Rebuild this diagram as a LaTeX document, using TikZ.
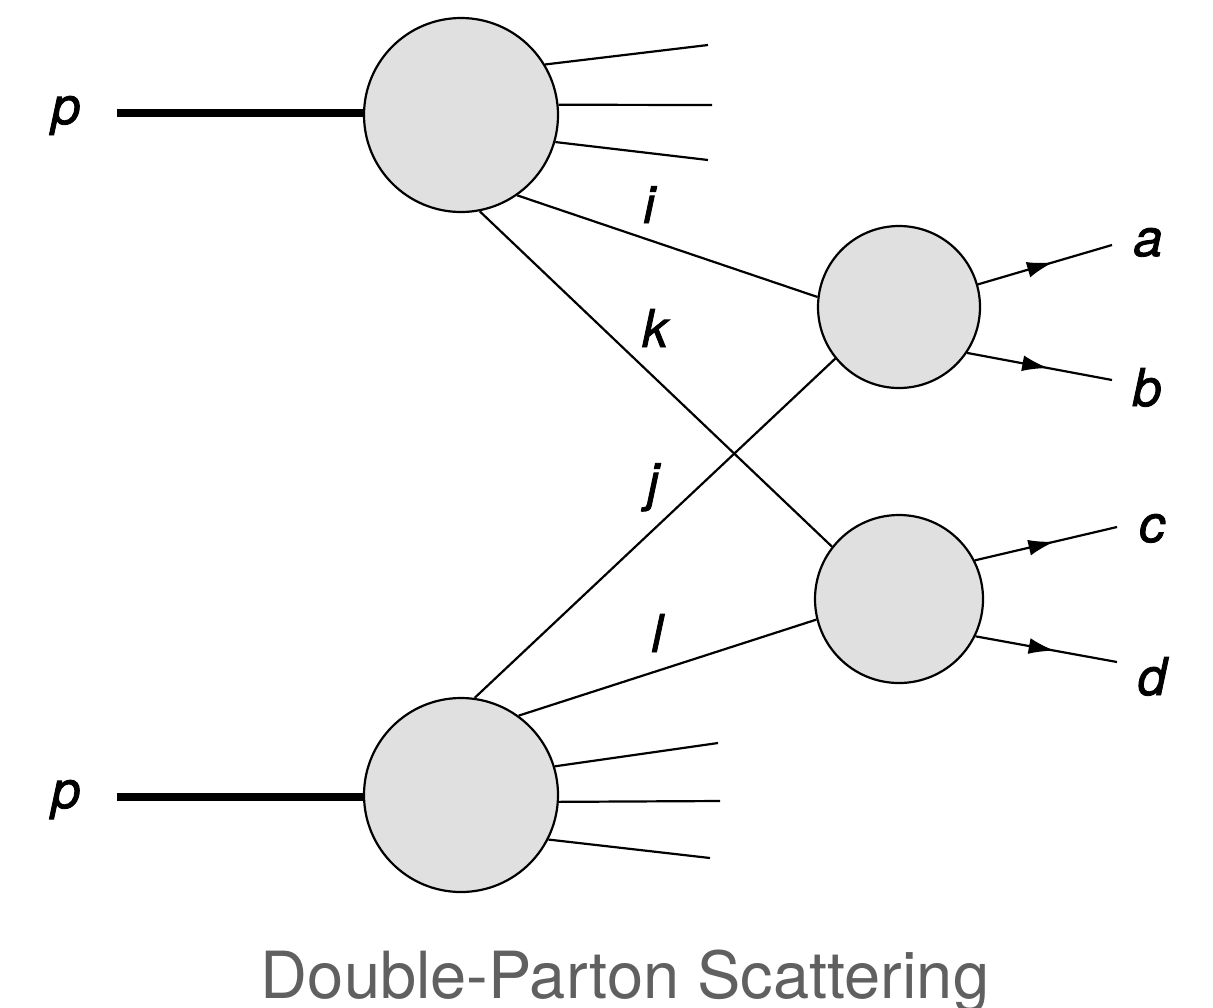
\documentclass[tikz,border=0pt]{standalone}
\usepackage{fontspec}
\setmainfont{TeX Gyre Heros}
\newfontfamily\lblfont[ItalicFeatures={FakeBold=1.6}]{TeX Gyre Heros}
\usetikzlibrary{arrows.meta,decorations.markings}
\definecolor{blobfill}{HTML}{E0E0E0}
\definecolor{captiongray}{HTML}{606060}
\tikzset{
  blob/.style={circle,draw=black,line width=1.1pt,fill=blobfill,inner sep=0pt},
  parton/.style={draw=black,line width=1.1pt},
  beam/.style={draw=black,line width=4pt},
  outgoing/.style={draw=black,line width=1.1pt,
    decoration={markings,mark=at position 0.56 with {\arrow{Latex[length=13pt,width=8pt]}}},
    postaction={decorate}},
  lbl/.style={font=\lblfont\fontsize{26}{30}\selectfont\itshape,anchor=base,inner sep=0pt},
}
\begin{document}
\begin{tikzpicture}[x=0.5pt,y=-0.5pt]
\useasboundingbox (0,0) rectangle (1213,1007);

% blobs: two protons and two hard scatterings
\node[blob,minimum size=97pt] (T) at (461,115) {};
\node[blob,minimum size=97pt] (L) at (461,795) {};
\node[blob,minimum size=81pt] (A) at (899,307) {};
\node[blob,minimum size=84pt] (B) at (899,599) {};

% free ends
\coordinate (pt) at (117,113);
\coordinate (pb) at (117,797);
\coordinate (t1) at (708,45);
\coordinate (t2) at (712,105);
\coordinate (t3) at (708,160);
\coordinate (b1) at (718,743);
\coordinate (b2) at (720,801);
\coordinate (b3) at (710,858);
\coordinate (ea) at (1112,245);
\coordinate (eb) at (1112,380);
\coordinate (ec) at (1117,527);
\coordinate (ed) at (1117,662);

% incoming protons
\draw[beam] (pt) -- (pt -| T.west);
\draw[beam] (pb) -- (pb -| L.west);

% remnants
\draw[parton] (T.31) -- (t1);
\draw[parton] (T.6) -- (t2);
\draw[parton] (T.-16) -- (t3);
\draw[parton] (L.17) -- (b1);
\draw[parton] (L.-4) -- (b2);
\draw[parton] (L.-27) -- (b3);

% partons i, k, j, l
\draw[parton] (T.-55) -- (A.173);
\draw[parton] (T.-79) -- (B.142);
\draw[parton] (L.82) -- (A.-141);
\draw[parton] (L.54) -- (B.194);

% final states
\draw[outgoing] (A.16) -- (ea);
\draw[outgoing] (A.-34) -- (eb);
\draw[outgoing] (B.27) -- (ec);
\draw[outgoing] (B.-26) -- (ed);

% labels
\node[lbl] (lp1) at (66,124) {p};
\node[lbl] (lp2) at (66,808) {p};
\node[lbl] (li) at (649,223) {i};
\node[lbl] (lk) at (655,347) {k};
\node[lbl] (lj) at (653,500) {j};
\node[lbl] (ll) at (657,652) {l};
\node[lbl] (la) at (1148,256) {a};
\node[lbl] (lb) at (1147,406) {b};
\node[lbl] (lc) at (1152,542) {c};
\node[lbl] (ld) at (1152,695) {d};

% caption
\node[anchor=base,inner sep=0pt,text=captiongray,font=\fontsize{32.5}{37}\selectfont] (cap) at (625,998) {Double-Parton Scattering};
\end{tikzpicture}
\end{document}
